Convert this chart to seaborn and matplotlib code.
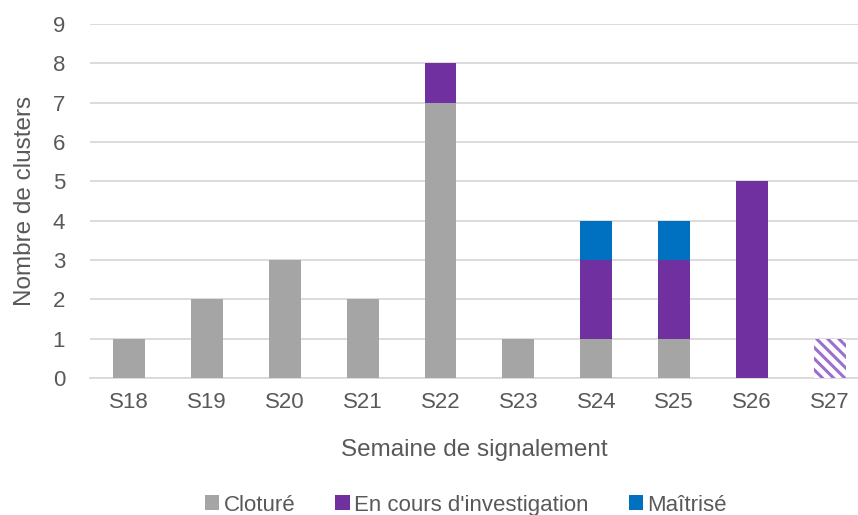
import numpy as np
import pandas as pd
import seaborn as sns
import matplotlib.pyplot as plt

semaines = ["S18", "S19", "S20", "S21", "S22", "S23", "S24", "S25", "S26", "S27"]
cloture = [1, 2, 3, 2, 7, 1, 1, 1, 0, 0]
en_cours = [0, 0, 0, 0, 1, 0, 2, 2, 5, 0]
maitrise = [0, 0, 0, 0, 0, 0, 1, 1, 0, 0]
provisoire = [0, 0, 0, 0, 0, 0, 0, 0, 0, 1]  # S27, hatched (incomplete week)

sns.set_theme(style="white")
plt.rcParams['font.family'] = ['Liberation Sans', 'DejaVu Sans']
plt.rcParams['hatch.linewidth'] = 2.2

gris = "#a5a5a5"
violet = "#7030a0"
bleu = "#0070c0"
txt = "#595959"

df = pd.DataFrame({"semaine": semaines,
                   "cloture": cloture,
                   "en_cours": en_cours,
                   "maitrise": maitrise,
                   "provisoire": provisoire})
df["c2"] = df["cloture"] + df["en_cours"]
df["c3"] = df["c2"] + df["maitrise"]

fig = plt.figure(figsize=(8.58, 5.15), dpi=100)
ax = fig.add_axes([90 / 858, 137 / 515, 1 - 90 / 858, (378 - 24) / 515])

w = 0.41
sns.barplot(data=df, x="semaine", y="c3", color=bleu, width=w, saturation=1,
            label="Maîtrisé", ax=ax, zorder=3, linewidth=0)
sns.barplot(data=df, x="semaine", y="c2", color=violet, width=w, saturation=1,
            label="En cours d'investigation", ax=ax, zorder=3, linewidth=0)
sns.barplot(data=df, x="semaine", y="cloture", color=gris, width=w, saturation=1,
            label="Cloturé", ax=ax, zorder=3, linewidth=0)

n_before = len(ax.patches)
sns.barplot(data=df, x="semaine", y="provisoire", color="white", width=w, saturation=1,
            ax=ax, zorder=3)
for p in ax.patches[n_before:]:
    p.set_hatch("\\\\\\")
    p.set_edgecolor("#9c6fcf")
    p.set_linewidth(0)

if ax.legend_ is not None:
    ax.legend_.remove()

ax.set_ylim(0, 9)
ax.set_xlim(-0.5, 9.36)
ax.set_yticks(range(0, 10))
ax.yaxis.grid(True, color="#d9d9d9", linewidth=1.3, zorder=0)
for s in ["top", "right", "left"]:
    ax.spines[s].set_visible(False)
ax.spines["bottom"].set_color("#d9d9d9")
ax.spines["bottom"].set_linewidth(1.3)
ax.tick_params(axis="both", length=0, labelsize=16, colors=txt)
ax.tick_params(axis="x", pad=10)
ax.tick_params(axis="y", pad=18)

ax.set_xlabel("Semaine de signalement", fontsize=17.5, color=txt, labelpad=19)
ax.set_ylabel("Nombre de clusters", fontsize=17.5, color=txt, labelpad=12)

handles, labels = ax.get_legend_handles_labels()
order = ["Cloturé", "En cours d'investigation", "Maîtrisé"]
hmap = dict(zip(labels, handles))
fig.legend([hmap[l] for l in order], order, loc="lower center", ncol=3,
           bbox_to_anchor=(0.543, -0.04), frameon=False, fontsize=16,
           handlelength=0.65, handleheight=0.65, handletextpad=0.2,
           columnspacing=1.8, labelcolor=txt)

fig.savefig("out.png", dpi=100)
